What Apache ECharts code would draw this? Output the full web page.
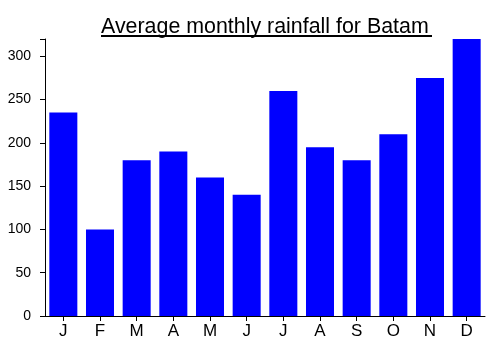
<!DOCTYPE html>
<html>
<head>
<meta charset="utf-8">
<script src="https://cdn.jsdelivr.net/npm/echarts@6/dist/echarts.min.js"></script>
<style>html,body{margin:0;padding:0;background:#fff}#c{width:489px;height:350px}</style>
</head>
<body>
<div id="c"></div>
<script>
const titleText = "Average monthly rainfall for Batam";
const months = ["J","F","M","A","M","J","J","A","S","O","N","D"];
const rainfall = [235, 100, 180, 190, 160, 140, 260, 195, 180, 210, 275, 320];
const yTicks = [0, 50, 100, 150, 200, 250, 300];

const chart = echarts.init(document.getElementById('c'), null, {renderer: 'canvas'});
chart.setOption({
  animation: false,
  backgroundColor: '#ffffff',
  title: {
    text: titleText,
    left: 101, top: 17, padding: 0,
    textStyle: {fontFamily: 'Liberation Sans, Arial', fontSize: 21.4, fontWeight: 'normal', color: '#000'}
  },
  graphic: [{
    type: 'line', shape: {x1: 101, y1: 36, x2: 432, y2: 36},
    style: {stroke: '#000', lineWidth: 2}
  }],
  grid: {left: 45, right: 4, top: 39, bottom: 34, containLabel: false},
  xAxis: {
    type: 'category', data: months,
    axisLine: {lineStyle: {color: '#000', width: 1}},
    axisTick: {show: true, alignWithLabel: true, length: 5, lineStyle: {color: '#000'}},
    axisLabel: {color: '#000', fontFamily: 'Liberation Sans, Arial', fontSize: 17, margin: 7, interval: 0}
  },
  yAxis: {
    type: 'value', min: 0, max: 320, interval: 50,
    axisLine: {show: true, lineStyle: {color: '#000', width: 1}},
    axisTick: {show: true, length: 5, lineStyle: {color: '#000'}},
    axisLabel: {
      color: '#000', fontFamily: 'Liberation Sans, Arial', fontSize: 14, margin: 14,
      formatter: v => yTicks.includes(v) ? String(v) : ''
    },
    splitLine: {show: false}
  },
  series: [{
    type: 'bar', data: rainfall, barCategoryGap: '23.6%',
    itemStyle: {color: '#0000ff'}
  }]
});
</script>
</body>
</html>
